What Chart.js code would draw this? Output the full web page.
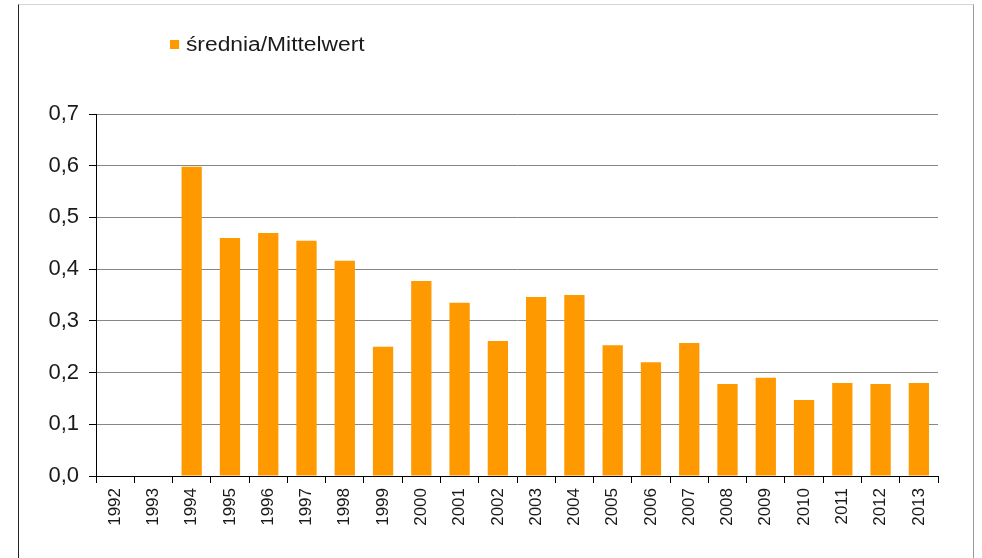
<!DOCTYPE html>
<html>
<head>
<meta charset="utf-8">
<script src="https://cdn.jsdelivr.net/npm/chart.js@4.4.1/dist/chart.umd.min.js"></script>
<style>
  html, body { margin: 0; padding: 0; background: #fff; }
  #wrap { position: relative; width: 982px; height: 558px; overflow: hidden; }
  #frame { position: absolute; left: 18px; top: 4px; width: 954px; height: 560px;
           border-left: 1px solid #222; border-top: 1px solid #d4d4d4; border-right: 1px solid #9a9a9a; }
  #legend { position: absolute; left: 170px; top: 33px; font: 20px "Liberation Sans", Arial, sans-serif;
            color: #1a1a1a; white-space: nowrap; transform: scaleX(1.14); transform-origin: 0 0; }
  #legend span.box { display: inline-block; width: 8px; height: 9px; background: #ff9900; margin-right: 6px; vertical-align: 2px; }
  canvas { position: absolute; left: 0; top: 0; }
</style>
</head>
<body>
<div id="wrap">
  <div id="frame"></div>
  <canvas id="chart" width="982" height="558"></canvas>
  <div id="legend"><span class="box"></span>średnia/Mittelwert</div>
</div>
<script>
var years = ["1992", "1993", "1994", "1995", "1996", "1997", "1998", "1999", "2000", "2001", "2002",
             "2003", "2004", "2005", "2006", "2007", "2008", "2009", "2010", "2011", "2012", "2013"];
var srednia = [null, null, 0.598, 0.460, 0.470, 0.455, 0.416, 0.250, 0.377, 0.335, 0.261,
               0.346, 0.350, 0.253, 0.220, 0.257, 0.178, 0.190, 0.147, 0.180, 0.178, 0.180];
var seriesName = "średnia/Mittelwert";
var yTicks = [0, 0.1, 0.2, 0.3, 0.4, 0.5, 0.6, 0.7];

new Chart(document.getElementById("chart"), {
    type: "bar",
    data: {
        labels: years,
        datasets: [{
            label: seriesName,
            data: srednia,
            backgroundColor: "#ff9900",
            barPercentage: 0.53,
            categoryPercentage: 1.0
        }]
    },
    options: {
        responsive: false,
        animation: false,
        layout: { padding: { top: 114, right: 44, bottom: 0, left: 0 } },
        plugins: { legend: { display: false }, tooltip: { enabled: false } },
        scales: {
            x: {
                grid: { offset: true, drawOnChartArea: false, tickLength: 7, tickColor: "#000" },
                border: { color: "#000" },
                ticks: {
                    minRotation: 90, maxRotation: 90, padding: 5, autoSkip: false,
                    color: "#1a1a1a", font: { family: "'Liberation Sans', Arial", size: 17 }
                },
                afterFit: function (s) { s.height = 82; }
            },
            y: {
                min: 0, max: 0.7,
                afterBuildTicks: function (s) { s.ticks = yTicks.map(function (v) { return { value: v }; }); },
                grid: { color: "#868686", tickLength: 7, tickColor: "#000" },
                border: { color: "#000" },
                ticks: {
                    padding: 10, color: "#1a1a1a",
                    font: { family: "'Liberation Sans', Arial", size: 22 },
                    callback: function (v) { return v.toFixed(1).replace(".", ","); }
                },
                afterFit: function (s) { s.width = 96; }
            }
        }
    }
});
</script>
</body>
</html>
